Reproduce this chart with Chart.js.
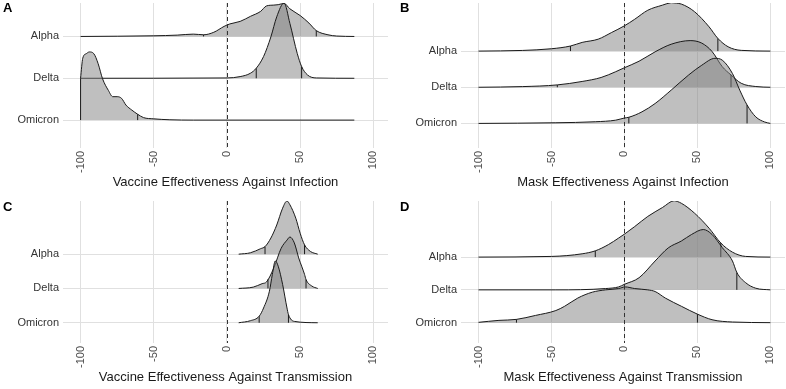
<!DOCTYPE html>
<html>
<head>
<meta charset="utf-8">
<script src="https://cdn.jsdelivr.net/npm/chart.js@4"></script>
<style>
  body { margin: 0; background: #fff; }
  #wrap { position: relative; width: 786px; height: 389px; }
  .panel { position: absolute; }
  .tag { position: absolute; font: bold 13px 'Liberation Sans', Arial, sans-serif; line-height: 13px; color: #000; }
</style>
</head>
<body>
<div id="wrap">
  <div class="panel" style="left:0;top:0"><canvas id="chartA" width="393" height="195"></canvas></div>
  <div class="panel" style="left:393px;top:0"><canvas id="chartB" width="393" height="195"></canvas></div>
  <div class="panel" style="left:0;top:195px"><canvas id="chartC" width="393" height="194"></canvas></div>
  <div class="panel" style="left:393px;top:195px"><canvas id="chartD" width="393" height="194"></canvas></div>
  <div class="tag" style="left:3px;top:1px">A</div>
  <div class="tag" style="left:400px;top:1px">B</div>
  <div class="tag" style="left:3px;top:200px">C</div>
  <div class="tag" style="left:400px;top:200px">D</div>
</div>
<script>
// -----------------------
// Data
// -----------------------
const variants = ['Omicron', 'Delta', 'Alpha'];   // ridge rows, bottom to top
const xTicks = [-100, -50, 0, 50, 100];
const refValue = 0;                                 // dashed "no effect" line

// A - vaccine effectiveness against infection
const vaccInfAlphaX = [-100, -50, -34, -23, -16, -9, -2, 2, 9, 16, 23, 27, 32, 35, 39, 43, 50, 56, 61, 69, 75, 87];
const vaccInfAlphaH = [0, 0.016, 0.032, 0.056, 0.04, 0.1, 0.24, 0.3, 0.36, 0.48, 0.6, 0.73, 0.75, 0.76, 0.79, 0.66, 0.5, 0.32, 0.14, 0.04, 0.01, 0];
const vaccInfAlphaQ = [-16, 61];
const vaccInfDeltaX = [-100, 0, 9, 16, 20, 25, 30, 34, 39, 43, 48, 51, 55, 61, 87];
const vaccInfDeltaH = [0, 0.008, 0.04, 0.12, 0.24, 0.52, 0.99, 1.47, 1.8, 1.31, 0.595, 0.28, 0.08, 0.008, 0];
const vaccInfDeltaQ = [20, 51];
const vaccInfOmicronX = [-100, -98.5, -96, -94, -91, -88, -85, -81, -78, -75, -72, -69, -65, -61, -57, -50, -39, -23, 87];
const vaccInfOmicronH = [1.0, 1.48, 1.59, 1.63, 1.59, 1.35, 0.99, 0.71, 0.56, 0.56, 0.52, 0.36, 0.24, 0.14, 0.06, 0.03, 0.008, 0, 0];
const vaccInfOmicronQ = [-100, -61];

// B - mask effectiveness against infection
const maskInfAlphaX = [-100, -70, -50, -37, -29, -18, -9, 0, 7, 16, 26, 32, 39, 48, 58, 64, 71, 80, 100];
const maskInfAlphaH = [0, 0.018, 0.065, 0.14, 0.24, 0.33, 0.51, 0.7, 0.88, 1.13, 1.27, 1.34, 1.3, 1.09, 0.67, 0.35, 0.12, 0.02, 0];
const maskInfAlphaQ = [-37, 64];
const maskInfDeltaX = [-100, -70, -46, -29, -16, -6, 0, 10, 21, 32, 45, 53, 60, 67, 73, 80, 90, 100];
const maskInfDeltaH = [0, 0.018, 0.065, 0.16, 0.27, 0.43, 0.54, 0.72, 0.98, 1.19, 1.29, 1.22, 0.99, 0.57, 0.34, 0.11, 0.02, 0];
const maskInfDeltaQ = [-46, 73];
const maskInfOmicronX = [-100, -47, -20, -6, 0, 3, 12, 21, 32, 44, 53, 62, 67, 74, 79, 84, 90, 96, 100];
const maskInfOmicronH = [0, 0.018, 0.046, 0.09, 0.15, 0.17, 0.32, 0.55, 0.92, 1.34, 1.61, 1.8, 1.75, 1.38, 0.92, 0.51, 0.18, 0.04, 0];
const maskInfOmicronQ = [3, 84];

// C - vaccine effectiveness against transmission
const vaccTrAlphaX = [8, 16, 23, 26, 30, 34, 38, 41, 43, 47, 50, 53, 57, 62];
const vaccTrAlphaH = [0, 0.04, 0.16, 0.22, 0.47, 0.85, 1.34, 1.55, 1.44, 1.05, 0.61, 0.27, 0.08, 0];
const vaccTrAlphaQ = [26, 53];
const vaccTrDeltaX = [8, 18, 24, 27, 32, 37, 41, 43, 46, 49, 53, 54, 58, 62];
const vaccTrDeltaH = [0, 0.04, 0.14, 0.19, 0.6, 1.17, 1.41, 1.5, 1.33, 0.89, 0.41, 0.26, 0.07, 0];
const vaccTrDeltaQ = [28, 54];
const vaccTrOmicronX = [8, 16, 22, 25, 29, 31, 33, 35, 38, 41, 42, 46, 62];
const vaccTrOmicronH = [0, 0.06, 0.19, 0.43, 0.92, 1.41, 1.8, 1.65, 1.12, 0.43, 0.24, 0.04, 0];
const vaccTrOmicronQ = [22, 42];

// D - mask effectiveness against transmission
const maskTrAlphaX = [-100, -50, -29, -20, -11, -4, 0, 7, 16, 26, 34, 39, 48, 58, 66, 74, 83, 100];
const maskTrAlphaH = [0, 0.02, 0.1, 0.19, 0.38, 0.58, 0.7, 0.93, 1.24, 1.51, 1.72, 1.64, 1.34, 0.88, 0.43, 0.15, 0.02, 0];
const maskTrAlphaQ = [-20, 66];
const maskTrDeltaX = [-100, -47, -13, -4, 0, 10, 21, 30, 39, 46, 54, 60, 67, 74, 77, 83, 90, 100];
const maskTrDeltaH = [0, 0, 0.04, 0.09, 0.17, 0.37, 0.88, 1.28, 1.49, 1.69, 1.84, 1.69, 1.29, 0.88, 0.53, 0.22, 0.05, 0];
const maskTrDeltaQ = [0, 77];
const maskTrOmicronX = [-100, -86, -74, -61, -47, -41, -32, -22, -13, -4, 0.5, 7, 16, 21, 28, 39, 50, 60, 74, 100];
const maskTrOmicronH = [0.01, 0.07, 0.1, 0.22, 0.37, 0.5, 0.75, 0.93, 1.0, 1.04, 1.09, 1.04, 1.0, 0.95, 0.75, 0.5, 0.26, 0.09, 0.02, 0];
const maskTrOmicronQ = [-74, 50];

// -----------------------
// Styling
// -----------------------
const FONT = "'Liberation Sans', Arial, sans-serif";
const FILL = 'rgba(128,128,128,0.5)';
const LINE = '#1a1a1a';
const GRID = '#e0e0e0';

function heightAt(xs, hs, v) {
  for (let i = 1; i < xs.length; i++) {
    if (v <= xs[i]) {
      const t = (v - xs[i - 1]) / (xs[i] - xs[i - 1]);
      return hs[i - 1] + t * (hs[i] - hs[i - 1]);
    }
  }
  return hs[hs.length - 1];
}

const zeroLine = {
  id: 'zeroLine',
  afterDatasetsDraw(chart) {
    const { ctx, chartArea, scales } = chart;
    const px = Math.round(scales.x.getPixelForValue(refValue)) + 0.5;
    ctx.save();
    ctx.strokeStyle = '#333';
    ctx.lineWidth = 1;
    ctx.setLineDash([4, 3]);
    ctx.beginPath();
    ctx.moveTo(px, chartArea.top);
    ctx.lineTo(px, chartArea.bottom);
    ctx.stroke();
    ctx.restore();
  }
};

function makePanel(id, cfg) {
  const datasets = [];
  cfg.ridges.forEach(r => {
    const base = variants.indexOf(r.name) + 1;
    datasets.push({
      data: r.x.map((x, i) => ({ x, y: base + r.h[i] })),
      fill: { value: base },
      backgroundColor: FILL,
      borderColor: LINE,
      borderWidth: 1,
      pointRadius: 0,
      cubicInterpolationMode: 'monotone',
      order: base
    });
    r.q.forEach(q => datasets.push({
      data: [{ x: q, y: base }, { x: q, y: base + heightAt(r.x, r.h, q) }],
      fill: false,
      borderColor: LINE,
      borderWidth: 1,
      pointRadius: 0,
      order: base - 0.5
    }));
  });

  new Chart(document.getElementById(id), {
    type: 'line',
    data: { datasets },
    plugins: [zeroLine],
    options: {
      responsive: false,
      animation: false,
      layout: { padding: { top: cfg.padTop, right: cfg.padRight, left: 0, bottom: 0 } },
      plugins: { legend: { display: false }, tooltip: { enabled: false } },
      scales: {
        x: {
          type: 'linear',
          min: -112,
          max: 110,
          afterBuildTicks: s => { s.ticks = xTicks.map(v => ({ value: v })); },
          afterFit: s => { s.height = cfg.axisHeight; s.paddingLeft = 0; s.paddingRight = 0; },
          ticks: { minRotation: 90, maxRotation: 90, autoSkip: false, padding: 3, color: '#4d4d4d', font: { family: FONT, size: 11 } },
          grid: { color: GRID, lineWidth: 1, drawTicks: false },
          border: { display: false },
          title: { display: true, text: cfg.title, color: '#1a1a1a', font: { family: FONT, size: 13 }, padding: { top: 0, bottom: cfg.titlePad } }
        },
        y: {
          type: 'linear',
          min: cfg.yMin,
          max: cfg.yMax,
          afterBuildTicks: s => { s.ticks = variants.map((v, i) => ({ value: i + 1 })); },
          afterFit: s => { s.width = cfg.axisWidth; s.paddingTop = 0; s.paddingBottom = 0; },
          ticks: { callback: v => variants[v - 1], padding: 4, color: '#333', font: { family: FONT, size: 11 } },
          grid: { color: GRID, lineWidth: 1, drawTicks: false },
          border: { display: false }
        }
      }
    }
  });
}

// -----------------------
// Panels
// -----------------------
makePanel('chartA', {
  title: 'Vaccine Effectiveness Against Infection',
  yMin: 0.333, yMax: 3.8, padTop: 3, padRight: 5, axisWidth: 63, axisHeight: 47, titlePad: 5,
  ridges: [
    { name: 'Alpha', x: vaccInfAlphaX, h: vaccInfAlphaH, q: vaccInfAlphaQ },
    { name: 'Delta', x: vaccInfDeltaX, h: vaccInfDeltaH, q: vaccInfDeltaQ },
    { name: 'Omicron', x: vaccInfOmicronX, h: vaccInfOmicronH, q: vaccInfOmicronQ }
  ]
});

makePanel('chartB', {
  title: 'Mask Effectiveness Against Infection',
  yMin: 0.32, yMax: 4.33, padTop: 3, padRight: 1, axisWidth: 68, axisHeight: 47, titlePad: 5,
  ridges: [
    { name: 'Alpha', x: maskInfAlphaX, h: maskInfAlphaH, q: maskInfAlphaQ },
    { name: 'Delta', x: maskInfDeltaX, h: maskInfDeltaH, q: maskInfDeltaQ },
    { name: 'Omicron', x: maskInfOmicronX, h: maskInfOmicronH, q: maskInfOmicronQ }
  ]
});

makePanel('chartC', {
  title: 'Vaccine Effectiveness Against Transmission',
  yMin: 0.41, yMax: 4.55, padTop: 6, padRight: 5, axisWidth: 63, axisHeight: 46, titlePad: 4,
  ridges: [
    { name: 'Alpha', x: vaccTrAlphaX, h: vaccTrAlphaH, q: vaccTrAlphaQ },
    { name: 'Delta', x: vaccTrDeltaX, h: vaccTrDeltaH, q: vaccTrDeltaQ },
    { name: 'Omicron', x: vaccTrOmicronX, h: vaccTrOmicronH, q: vaccTrOmicronQ }
  ]
});

makePanel('chartD', {
  title: 'Mask Effectiveness Against Transmission',
  yMin: 0.38, yMax: 4.71, padTop: 6, padRight: 1, axisWidth: 68, axisHeight: 46, titlePad: 4,
  ridges: [
    { name: 'Alpha', x: maskTrAlphaX, h: maskTrAlphaH, q: maskTrAlphaQ },
    { name: 'Delta', x: maskTrDeltaX, h: maskTrDeltaH, q: maskTrDeltaQ },
    { name: 'Omicron', x: maskTrOmicronX, h: maskTrOmicronH, q: maskTrOmicronQ }
  ]
});
</script>
</body>
</html>
